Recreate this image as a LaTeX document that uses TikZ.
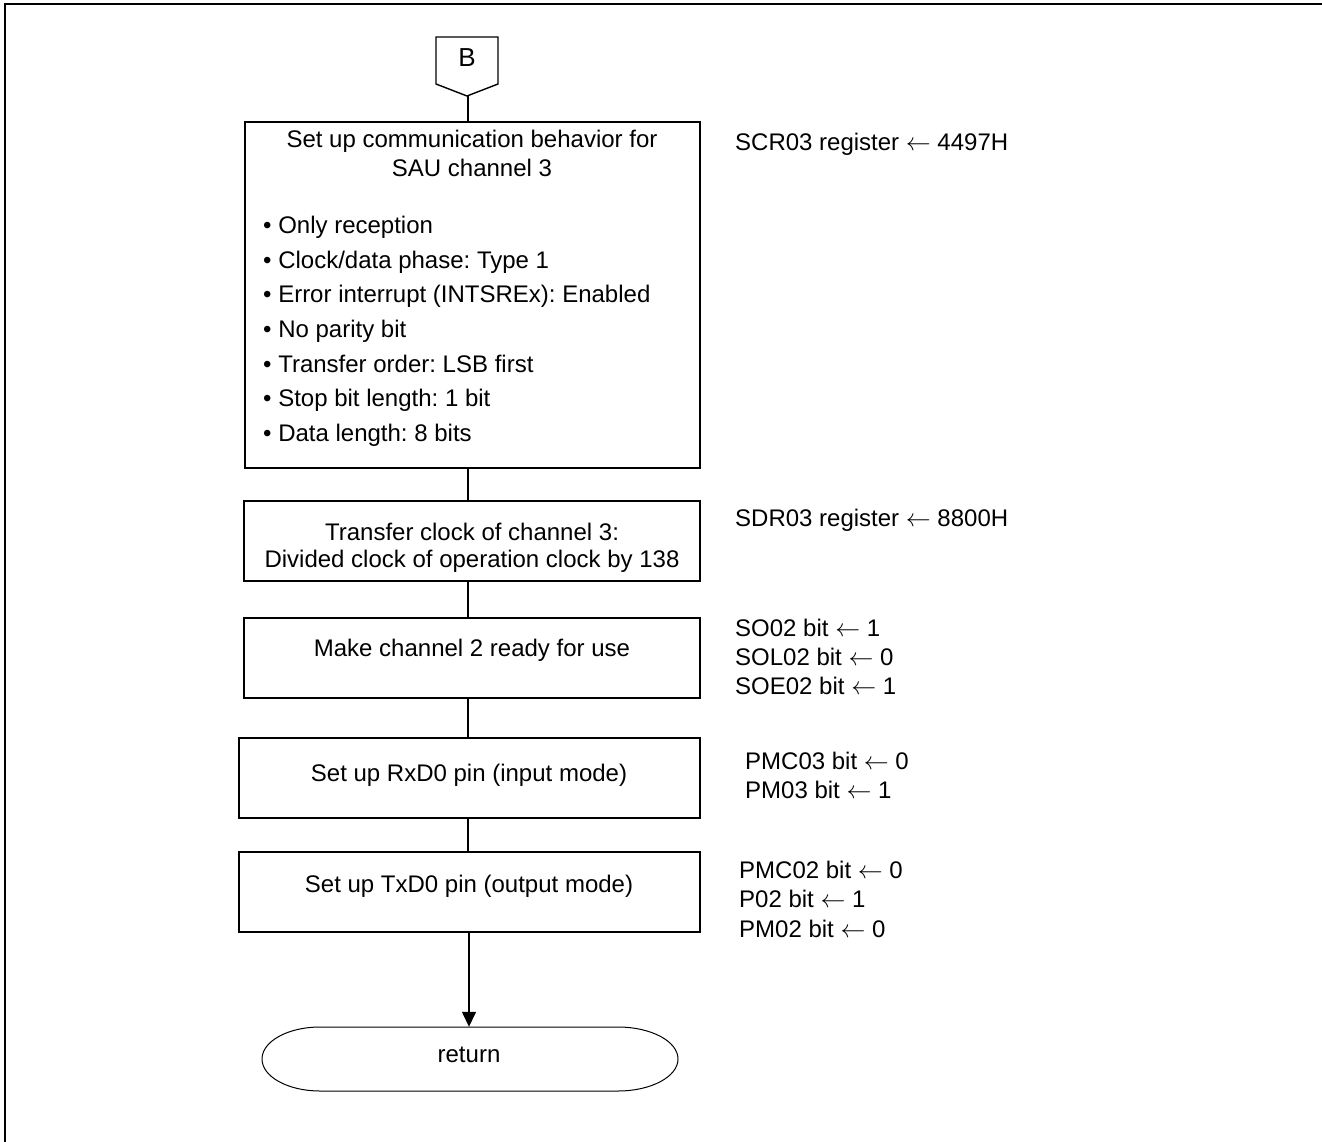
\documentclass[tikz,border=0pt]{standalone}
\usepackage{fontspec}
\setmainfont{Liberation Sans}
\usetikzlibrary{arrows.meta}
\frenchspacing
\begin{document}
\begin{tikzpicture}[x=1pt,y=-1pt,
  box/.style={draw, line width=1.6pt, inner sep=0pt},
  txt/.style={inner sep=0pt, anchor=base, font=\fontsize{24}{29}\selectfont},
  ltxt/.style={inner sep=0pt, anchor=base west, font=\fontsize{24}{29}\selectfont},
  flow/.style={line width=1.4pt},
  frame/.style={line width=2.6pt}]
\useasboundingbox (0,0) rectangle (1322,1142);
% frame (only top and left edges visible)
\draw[frame] (5,1142) -- (5,4) -- (1322,4);
\coordinate (cx) at (469,0);
% off-page connector B
\draw[line width=1.4pt] (436,37) -- (498,37) -- (498,84) -- (467,96) -- (436,84) -- cycle;
\coordinate (Bp) at (468,96);
\node[txt, font=\fontsize{26}{31}\selectfont] (Blab) at (467,67) {B};
% boxes
\node[box, minimum width=455pt, minimum height=346pt] (b1) at (472.5,295) {};
\node[box, minimum width=456pt, minimum height=80pt] (b2) at (472,541) {};
\node[box, minimum width=456pt, minimum height=80pt] (b3) at (472,658) {};
\node[box, minimum width=461pt, minimum height=80pt] (b4) at (469.5,778) {};
\node[box, minimum width=461pt, minimum height=80pt] (b5) at (469.5,892) {};
% box texts
\node[txt] (t1a) at (472,147.5) {Set up communication behavior for};
\node[txt] (t1b) at (472,176.5) {SAU channel 3};
\node[ltxt] (u1) at (263,233.5) {\textbullet\ Only reception};
\node[ltxt] (u2) at (263,268.5) {\textbullet\ Clock/data phase: Type 1};
\node[ltxt] (u3) at (263,302.5) {\textbullet\ Error interrupt (INTSREx): Enabled};
\node[ltxt] (u4) at (263,337.5) {\textbullet\ No parity bit};
\node[ltxt] (u5) at (263,372.5) {\textbullet\ Transfer order: LSB first};
\node[ltxt] (u6) at (263,406.5) {\textbullet\ Stop bit length: 1 bit};
\node[ltxt] (u7) at (263,441.5) {\textbullet\ Data length: 8 bits};
\node[txt] (t2a) at (472,540.5) {Transfer clock of channel 3:};
\node[txt] (t2b) at (472,567.5) {Divided clock of operation clock by 138};
\node[txt] (t3) at (472,656.5) {Make channel 2 ready for use};
\node[txt] (t4) at (469,781.5) {Set up RxD0 pin (input mode)};
\node[txt] (t5) at (469,892.5) {Set up TxD0 pin (output mode)};
% right-hand notes
\node[ltxt] (n1) at (735,150.5) {SCR03 register $\leftarrow$ 4497H};
\node[ltxt] (n2) at (735,526.5) {SDR03 register $\leftarrow$ 8800H};
\node[ltxt] (n3a) at (735,636.5) {SO02 bit $\leftarrow$ 1};
\node[ltxt] (n3b) at (735,665.5) {SOL02 bit $\leftarrow$ 0};
\node[ltxt] (n3c) at (735,694.5) {SOE02 bit $\leftarrow$ 1};
\node[ltxt] (n4a) at (745,769.5) {PMC03 bit $\leftarrow$ 0};
\node[ltxt] (n4b) at (745,798.5) {PM03 bit $\leftarrow$ 1};
\node[ltxt] (n5a) at (739,878.5) {PMC02 bit $\leftarrow$ 0};
\node[ltxt] (n5b) at (739,907.5) {P02 bit $\leftarrow$ 1};
\node[ltxt] (n5c) at (739,937.5) {PM02 bit $\leftarrow$ 0};
% terminal
\node[inner sep=0pt, minimum width=416pt, minimum height=64pt] (ret) at (470,1059) {};
\draw[line width=1pt] (320,1027) -- (618,1027)
  .. controls (651.1,1027) and (678,1041.3) .. (678,1059)
  .. controls (678,1076.7) and (651.1,1091) .. (618,1091)
  -- (320,1091)
  .. controls (288,1091) and (262,1076.7) .. (262,1059)
  .. controls (262,1041.3) and (288,1027) .. (320,1027) -- cycle;
\node[txt] (rtxt) at (469,1062.5) {return};
% connectors
\draw[flow] (Bp) -- (Bp |- b1.north);
\draw[flow] (b1.south -| Bp) -- (b2.north -| Bp);
\draw[flow] (b2.south -| Bp) -- (b3.north -| Bp);
\draw[flow] (b3.south -| Bp) -- (b4.north -| Bp);
\draw[flow] (b4.south -| Bp) -- (b5.north -| Bp);
\draw[flow, -{Triangle[length=15pt,width=14pt]}] (b5.south -| cx) -- (ret.north -| cx);
\end{tikzpicture}
\end{document}
